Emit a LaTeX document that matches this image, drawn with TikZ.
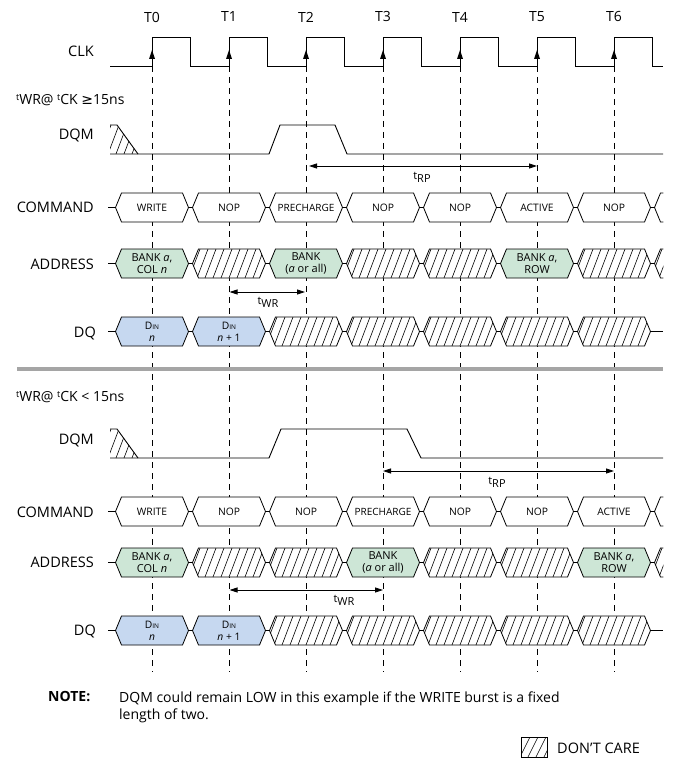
\documentclass[tikz,border=0pt]{standalone}
\usepackage{fontspec}
\setmainfont{Open Sans}
\newfontfamily\symf{DejaVu Sans}
\usetikzlibrary{arrows.meta}
\definecolor{addrgreen}{RGB}{205,230,214}
\definecolor{dqblue}{RGB}{198,216,240}
\definecolor{sepgray}{RGB}{165,165,165}

\newcommand\wseg[5]{%
  \filldraw[fill=#4,busline] ({#2-36.5},{#3+14.5}) -- ({#2-30.5},#3) -- ({#2+30.5},#3) -- ({#2+36.5},{#3+14.5}) -- ({#2+30.5},{#3+29}) -- ({#2-30.5},{#3+29}) -- cycle;
  \node[segtext] (#1) at (#2,{#3+14.5}) {#5};}
\newcommand\hseg[2]{%
  \begin{scope}
    \clip ({#1-36.5},{#2+14.5}) -- ({#1-30.5},#2) -- ({#1+30.5},#2) -- ({#1+36.5},{#2+14.5}) -- ({#1+30.5},{#2+29}) -- ({#1-30.5},{#2+29}) -- cycle;
    \fill[white] ({#1-40},{#2-1}) rectangle ({#1+40},{#2+30});
    \foreach \k in {0,...,11} {\draw[hatchln] ({#1-48+8*\k},{#2+29}) -- ++(11,-29);}
  \end{scope}
  \draw[busline] ({#1-36.5},{#2+14.5}) -- ({#1-30.5},#2) -- ({#1+30.5},#2) -- ({#1+36.5},{#2+14.5}) -- ({#1+30.5},{#2+29}) -- ({#1-30.5},{#2+29}) -- cycle;}
\newcommand\tsup{\raisebox{3.5pt}{\fontsize{9}{9}\selectfont t}}
\newcommand\din{D{\fontsize{6.5}{7}\selectfont IN}}
\newcommand\two{\fontsize{11}{12.5}\selectfont}

\begin{document}
\begin{tikzpicture}[x=1pt,y=-1pt,
  sig/.style={line width=0.9pt},
  busline/.style={line width=0.8pt},
  hatchln/.style={line width=0.6pt},
  gridln/.style={line width=0.8pt,dash pattern=on 6pt off 5pt},
  dimarrow/.style={line width=0.8pt,{Triangle[length=8pt,width=5pt]}-{Triangle[length=8pt,width=5pt]}},
  lbl/.style={anchor=east,inner sep=0pt,font=\fontsize{14.5}{16}\selectfont},
  tlbl/.style={inner sep=0pt,font=\fontsize{14}{16}\selectfont},
  segtext/.style={align=center,inner sep=0pt,font=\fontsize{10.3}{12}\selectfont},
  dimtext/.style={inner sep=0pt,font=\fontsize{11}{12}\selectfont}
]
\useasboundingbox (0,0) rectangle (672,759);

% clock-edge labels
\foreach \k in {0,...,6} {\node[tlbl] (T\k) at ({152+77*\k},17) {T\k};}

% dashed reference lines
\foreach \k in {0,...,6} {\draw[gridln] ({152+77*\k},66) -- ({152+77*\k},672);}

% row labels
\node[lbl] (clk) at (94,51) {CLK};
\node[lbl] (dqm1) at (94,135) {DQM};
\node[lbl] (cmd1) at (94,207) {COMMAND};
\node[lbl] (adr1) at (94,264) {ADDRESS};
\node[lbl] (dq1) at (96,333) {DQ};
\node[lbl] (dqm2) at (94,440) {DQM};
\node[lbl] (cmd2) at (94,512) {COMMAND};
\node[lbl] (adr2) at (94,562) {ADDRESS};
\node[lbl] (dq2) at (96,631) {DQ};

% clock
\draw[sig] (110,66) foreach \k in {0,...,6} { -- ({152+77*\k},66) -- ({152+77*\k},37.5) -- ({190.5+77*\k},37.5) -- ({190.5+77*\k},66) } -- (663,66);
\foreach \k in {0,...,6} {\fill ({152+77*\k},50) -- ++(-3,9) -- ++(6,0) -- cycle;}

% headers
\node[anchor=west,inner sep=0pt,font=\fontsize{14}{16}\selectfont] (hdr1) at (16,100) {\tsup WR@ \tsup CK {\symf ≥}15ns};
\node[anchor=west,inner sep=0pt,font=\fontsize{14}{16}\selectfont] (hdr2) at (16,397) {\tsup WR@ \tsup CK < 15ns};

% DQM top
\begin{scope}
  \clip (110,125) -- (117,125) -- (138,154) -- (110,154) -- cycle;
  \foreach \k in {0,...,5} {\draw[hatchln] ({100+8*\k},154) -- ++(11,-29);}
\end{scope}
\draw[sig] (110,125) -- (117,125) -- (138,154);
\draw[sig] (110,154) -- (269,154) -- (280,125) -- (335,125) -- (347,154) -- (663,154);

% tRP top
\coordinate (rp1a) at (309,166);
\coordinate (rp1b) at (537,166);
\draw[dimarrow] (rp1a) -- (rp1b);
\node[dimtext] (trp1) at (422,177) {t\raisebox{-3pt}{RP}};

% COMMAND top
\draw[busline] (108,207.5) -- (663,207.5);
\wseg{c1a}{152}{193}{white}{WRITE}
\wseg{c1b}{229}{193}{white}{NOP}
\wseg{c1c}{306}{193}{white}{\fontsize{10}{12}\selectfont PRECHARGE}
\wseg{c1d}{383}{193}{white}{NOP}
\wseg{c1e}{460}{193}{white}{NOP}
\wseg{c1f}{537}{193}{white}{ACTIVE}
\wseg{c1g}{614}{193}{white}{NOP}
\begin{scope}\clip (640,185) rectangle (663.4,230); \wseg{c1h}{691}{193}{white}{}\end{scope}

% ADDRESS top
\draw[busline] (108,263.5) -- (663,263.5);
\wseg{a1a}{152}{249}{addrgreen}{\two BANK \textit{a},\\\two COL \textit{n}}
\hseg{229}{249}
\wseg{a1c}{306}{249}{addrgreen}{\two BANK\\\two (\textit{a} or all)}
\hseg{383}{249}
\hseg{460}{249}
\wseg{a1f}{537}{249}{addrgreen}{\two BANK \textit{a},\\\two ROW}
\hseg{614}{249}
\begin{scope}\clip (640,240) rectangle (663.4,290); \hseg{691}{249}\end{scope}

% tWR top
\coordinate (wr1a) at (229.5,292);
\coordinate (wr1b) at (305,292);
\draw[dimarrow] (wr1a) -- (wr1b);
\node[dimtext] (twr1) at (268,302) {t\raisebox{-3pt}{WR}};

% DQ top
\draw[busline] (108,331) -- (663,331);
\wseg{d1a}{152}{317}{dqblue}{\din\\\textit{n}}
\wseg{d1b}{229}{317}{dqblue}{\din\\\textit{n} + 1}
\hseg{306}{317}
\hseg{383}{317}
\hseg{460}{317}
\hseg{537}{317}
\hseg{614}{317}

% separator
\draw[sepgray,line width=4pt] (17,369) -- (663,369);

% DQM bottom
\begin{scope}
  \clip (110,429) -- (117,429) -- (138,458) -- (110,458) -- cycle;
  \foreach \k in {0,...,5} {\draw[hatchln] ({100+8*\k},458) -- ++(11,-29);}
\end{scope}
\draw[sig] (110,429) -- (117,429) -- (138,458);
\draw[sig] (110,458) -- (269,458) -- (281,429) -- (407,429) -- (421,458) -- (663,458);

% tRP bottom
\coordinate (rp2a) at (383,471);
\coordinate (rp2b) at (614,471);
\draw[dimarrow] (rp2a) -- (rp2b);
\node[dimtext] (trp2) at (497,482) {t\raisebox{-3pt}{RP}};

% COMMAND bottom
\draw[busline] (108,511.5) -- (663,511.5);
\wseg{c2a}{152}{497}{white}{WRITE}
\wseg{c2b}{229}{497}{white}{NOP}
\wseg{c2c}{306}{497}{white}{NOP}
\wseg{c2d}{383}{497}{white}{\fontsize{10}{12}\selectfont PRECHARGE}
\wseg{c2e}{460}{497}{white}{NOP}
\wseg{c2f}{537}{497}{white}{NOP}
\wseg{c2g}{614}{497}{white}{ACTIVE}
\begin{scope}\clip (640,490) rectangle (663.4,530); \wseg{c2h}{691}{497}{white}{}\end{scope}

% ADDRESS bottom
\draw[busline] (108,562) -- (663,562);
\wseg{a2a}{152}{548}{addrgreen}{\two BANK \textit{a},\\\two COL \textit{n}}
\hseg{229}{548}
\hseg{306}{548}
\wseg{a2d}{383}{548}{addrgreen}{\two BANK\\\two (\textit{a} or all)}
\hseg{460}{548}
\hseg{537}{548}
\wseg{a2g}{614}{548}{addrgreen}{\two BANK \textit{a},\\\two ROW}
\begin{scope}\clip (640,540) rectangle (663.4,590); \hseg{691}{548}\end{scope}

% tWR bottom
\coordinate (wr2a) at (229.5,590);
\coordinate (wr2b) at (383,590);
\draw[dimarrow] (wr2a) -- (wr2b);
\node[dimtext] (twr2) at (344,600) {t\raisebox{-3pt}{WR}};

% DQ bottom
\draw[busline] (108,630) -- (663,630);
\wseg{d2a}{152}{616}{dqblue}{\din\\\textit{n}}
\wseg{d2b}{229}{616}{dqblue}{\din\\\textit{n} + 1}
\hseg{306}{616}
\hseg{383}{616}
\hseg{460}{616}
\hseg{537}{616}
\hseg{614}{616}

% note
\node[anchor=west,inner sep=0pt,font=\bfseries\fontsize{14}{16}\selectfont] (noteh) at (48,697) {NOTE:};
\node[anchor=base west,inner sep=0pt,font=\fontsize{14}{16}\selectfont] (note1) at (119,702) {DQM could remain LOW in this example if the WRITE burst is a fixed};
\node[anchor=base west,inner sep=0pt,font=\fontsize{14}{16}\selectfont] (note2) at (119,719) {length of two.};

% legend
\begin{scope}
  \clip (521,737) rectangle (547,757);
  \foreach \k in {0,...,4} {\draw[hatchln] ({512+8*\k},757) -- ++(10,-20);}
\end{scope}
\draw[hatchln] (521,737) rectangle (547,757);
\node[anchor=west,inner sep=0pt,font=\fontsize{14.5}{16}\selectfont] (dc) at (557,748) {DON’T CARE};
\end{tikzpicture}
\end{document}
